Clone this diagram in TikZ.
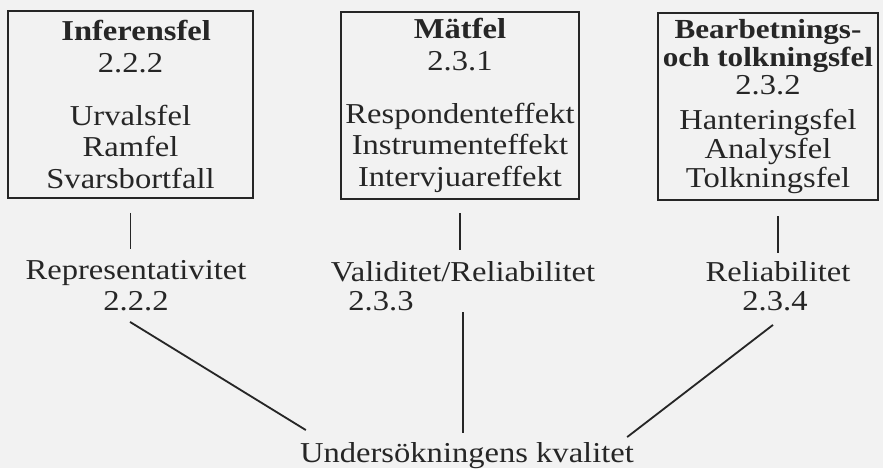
\documentclass[tikz,border=0pt]{standalone}
\usepackage{fontspec}
\setmainfont{Liberation Serif}[FakeStretch=1.13]
\tikzset{
  felbox/.style={draw, line width=1.4pt, inner sep=0pt, align=center},
  etikett/.style={inner sep=0pt, text height=14pt, text depth=4pt, anchor=base},
  linje/.style={line width=1.3pt}
}
\begin{document}
\begin{tikzpicture}[x=0.025cm, y=-0.025cm, font=\fontsize{20.5}{22.5}\selectfont, color=black!85]
\useasboundingbox [fill=black!5] (0,0) rectangle (883,468);
% felkallor
\node [felbox, minimum width=6.1cm, minimum height=4.65cm] (inferens) at (130.5,104.5)
  {\hspace*{8pt}\textbf{Inferensfel}\\2.2.2\\[15pt]Urvalsfel\\Ramfel\\Svarsbortfall};
\node [felbox, minimum width=5.95cm, minimum height=4.65cm] (matfel) at (460,105.5)
  {\textbf{Mätfel}\\2.3.1\\[15pt]Respondenteffekt\\Instrumenteffekt\\Intervjuareffekt};
\node [felbox, minimum width=5.5cm, minimum height=4.675cm] (bearb) at (768,106.5)
  {\textbf{\fontsize{19.6}{22.5}\selectfont Bearbetnings-}\\[-2.5pt]\textbf{\fontsize{19.6}{22.5}\selectfont och tolkningsfel}\\[-3pt]2.3.2\\[2.5pt]Hanteringsfel\\[-2pt]Analysfel\\[-2pt]Tolkningsfel};
% kvalitetsbegrepp
\node [etikett] (repr) at (136,279) {Representativitet};
\node [etikett] (nr222) at (136,310) {2.2.2};
\node [etikett] (valid) at (463,281) {Validitet/Reliabilitet};
\node [etikett] (nr233) at (381,310) {2.3.3};
\node [etikett] (reli) at (778,281) {Reliabilitet};
\node [etikett] (nr234) at (775,310) {2.3.4};
\node [etikett] (kval) at (467,462) {Undersökningens kvalitet};
% linjer
\draw [linje, shorten <=0.36cm, shorten >=0.26cm] (inferens.south) -- (inferens.south |- repr.north);
\draw [linje, shorten <=0.34cm, shorten >=0.28cm] (matfel.south) -- (matfel.south |- valid.north);
\draw [linje, shorten <=0.375cm, shorten >=0.2cm] (reli.north |- bearb.south) -- (reli.north);
\draw [linje] ([shift={(-6,6)}]nr222.south) -- ([shift={(6,-12)}]kval.north west);
\draw [linje, shorten <=0.635cm, shorten >=0.23cm] (valid.south) -- (valid.south |- kval.north);
\draw [linje] ([shift={(-2,9)}]nr234.south) -- ([shift={(-7,-5)}]kval.north east);
\end{tikzpicture}
\end{document}
